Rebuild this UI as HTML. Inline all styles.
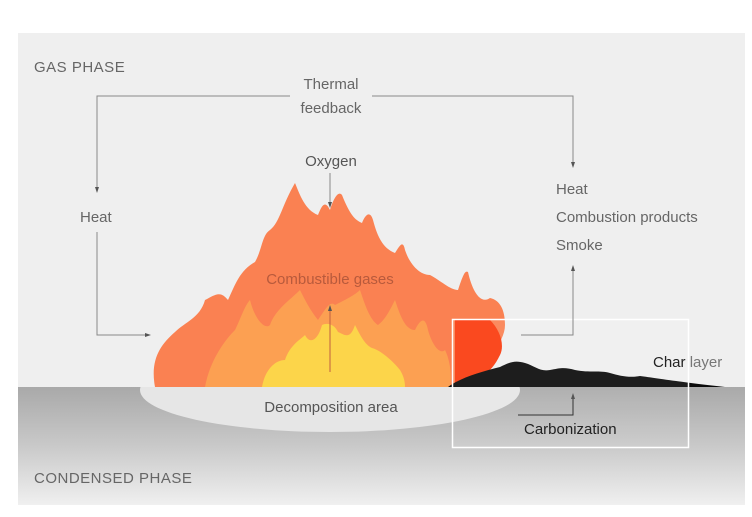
<!DOCTYPE html>
<html><head><style>
body{margin:0;background:#fff;width:752px;height:512px;overflow:hidden;font-family:"Liberation Sans",sans-serif}
</style></head><body>
<svg width="752" height="512" xmlns="http://www.w3.org/2000/svg" font-family="Liberation Sans, sans-serif">
<defs>
<linearGradient id="cg" x1="0" y1="0" x2="0" y2="1">
<stop offset="0" stop-color="#a9a9a9"/><stop offset="0.5" stop-color="#c9c9c9"/><stop offset="1" stop-color="#f0f0f0"/>
</linearGradient>
<clipPath id="below"><rect x="0" y="387" width="752" height="130"/></clipPath>
<marker id="ar" markerWidth="6" markerHeight="6" refX="3" refY="3" orient="auto"><path d="M0,1 L6,3 L0,5z" fill="#555"/></marker>
</defs>
<rect x="18" y="33" width="727" height="354" fill="#efefef"/>
<rect x="18" y="387" width="727" height="118" fill="url(#cg)"/>
<ellipse cx="330" cy="390" rx="190" ry="42" fill="#e6e6e6" clip-path="url(#below)"/>
<path d="M155,387 C150,360 160,345 175,332 C185,322 200,318 205,300 C215,295 220,290 228,300 C235,285 240,270 255,262 C262,250 262,235 270,230 C280,222 282,205 295,183 C300,195 305,210 318,215 C322,205 325,200 330,210 C333,200 338,190 342,195 C350,215 355,220 362,223 C365,215 370,210 373,220 C377,235 382,248 395,253 C400,245 403,240 405,250 C410,265 420,275 430,275 C440,280 450,290 458,290 C463,275 465,270 468,272 C472,290 480,305 490,298 C500,300 505,310 505,325 C505,345 480,365 470,387 Z" fill="#fa8152"/>
<path d="M205,387 C210,360 225,340 235,330 C240,320 245,305 250,300 C255,320 265,330 270,325 C275,310 290,300 300,290 C305,300 310,310 318,320 C325,310 330,300 335,305 C345,300 355,295 360,290 C365,305 370,320 378,325 C385,320 390,310 395,300 C400,315 405,330 415,330 C420,320 425,315 428,330 C432,345 440,355 445,350 C450,360 452,375 450,387 Z" fill="#fca052"/>
<path d="M262,387 C265,370 275,360 285,360 C290,345 300,340 305,335 C310,345 318,340 322,325 C328,322 335,325 338,332 C345,335 350,340 355,325 C360,335 365,345 372,348 C380,350 392,360 400,370 C405,378 405,385 405,387 Z" fill="#fcd54a"/>
<path d="M455,320 L490,320 C500,330 505,345 500,355 C495,365 490,372 480,377 L455,385 Z" fill="#fa3a0c"/>
<path d="M448,387 C460,378 480,372 500,367 C510,362 515,360 525,363 C535,366 540,372 550,370 C560,368 565,367 575,370 C590,373 600,370 610,373 C620,376 630,378 640,376 C655,378 680,382 725,387 Z" fill="#0a0a0a"/>
<rect x="452.5" y="319.5" width="236" height="128" fill="rgba(255,255,255,0.08)" stroke="#fff" stroke-width="1.5"/>
<g stroke="#888" stroke-width="1" fill="none">
<path d="M290,96 H97 V190" marker-end="url(#ar)"/>
<path d="M372,96 H573 V165" marker-end="url(#ar)"/>
<path d="M97,232 V335 H148" marker-end="url(#ar)"/>
<path d="M521,335 H573 V268" marker-end="url(#ar)"/>
<path d="M330,173 V205" marker-end="url(#ar)"/>
<path d="M330,372 V308" stroke="#c06040" marker-end="url(#ar)"/>
<path d="M518,415 H573 V396" stroke="#333" marker-end="url(#ar)"/>
</g>
<g fill="#666" font-size="15">
<text x="34" y="72" letter-spacing="0.5">GAS PHASE</text>
<text x="34" y="483" letter-spacing="0.5">CONDENSED PHASE</text>
<text x="331" y="89" text-anchor="middle">Thermal</text>
<text x="331" y="113" text-anchor="middle">feedback</text>
<text x="331" y="166" text-anchor="middle" fill="#555">Oxygen</text>
<text x="80" y="222">Heat</text>
<text x="556" y="194">Heat</text>
<text x="556" y="222">Combustion products</text>
<text x="556" y="250">Smoke</text>
<text x="330" y="284" text-anchor="middle" fill="#b85a3c">Combustible gases</text>
<text x="331" y="412" text-anchor="middle" fill="#555">Decomposition area</text>
<text x="524" y="434" fill="#222">Carbonization</text>
<text x="653" y="367" fill="#222">Char <tspan fill="#777">layer</tspan></text>
</g>
</svg>
</body></html>
